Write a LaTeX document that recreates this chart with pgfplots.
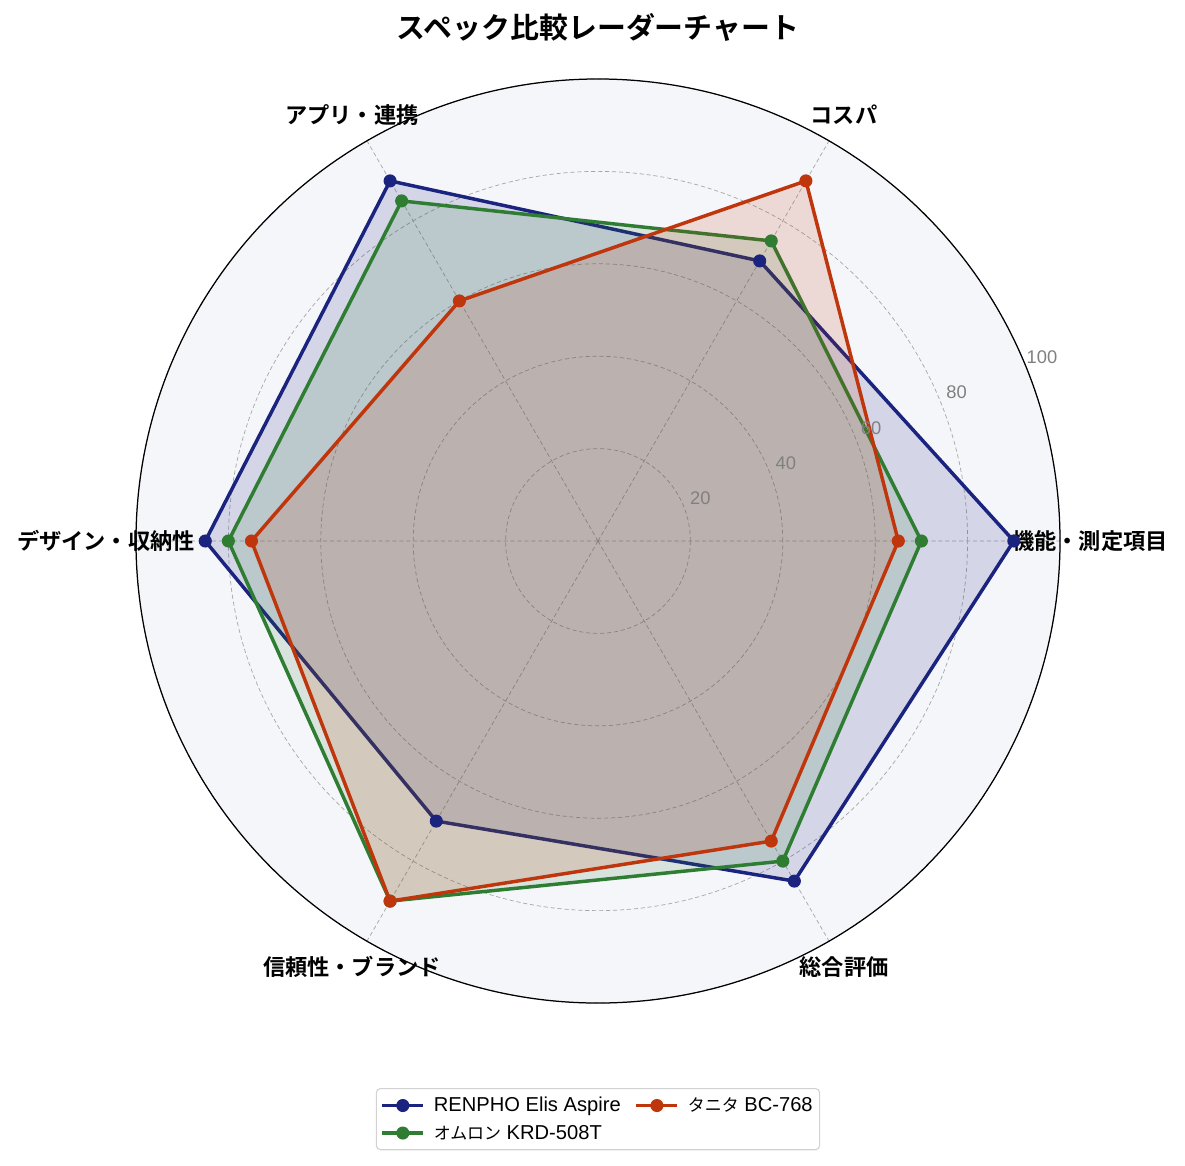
\documentclass[border=0pt]{standalone}
\usepackage{pgfplots}
\pgfplotsset{compat=1.18}
\usepgfplotslibrary{polar}
\usepackage{fontspec}
\setmainfont{Noto Sans CJK JP}[BoldFont={Noto Sans CJK JP Bold}]
\newfontfamily\latinfont{Liberation Sans}
\newfontfamily\jpfont{Noto Sans CJK JP}
\newcommand\jp[1]{{\jpfont\fontsize{12.2}{17}\selectfont #1}}
\definecolor{renpho}{HTML}{1A237E}
\definecolor{omron}{HTML}{2E7D32}
\definecolor{tanita}{HTML}{BF360C}
\definecolor{bgpanel}{HTML}{F5F6FA}
\definecolor{tickgray}{HTML}{808080}

\begin{document}
\begin{tikzpicture}
\begin{polaraxis}[
  scale only axis,
  width=665.3pt, height=665.3pt,
  ymin=0, ymax=100,
  xtick={0,60,...,300}, xticklabels={},
  ytick={20,40,60,80,100}, yticklabels={},
  major tick length=0pt,
  grid=major,
  grid style={densely dashed, gray!70, line width=0.5pt},
  axis line style={black, line width=0.9pt},
  y axis line style={draw=none},
  axis background/.style={fill=bgpanel},
  legend style={at={(0.5,-0.092)}, anchor=north,
    font=\latinfont\fontsize{14.5}{17}\selectfont,
    legend columns=2, draw=gray!35, line width=0.8pt, rounded corners=3pt,
    inner xsep=3pt, inner ysep=4.2pt, row sep=4pt,
    /tikz/every odd column/.append style={column sep=4.3pt},
    /tikz/every even column/.append style={column sep=8pt}},
  legend cell align=left,
  legend image code/.code={
    \draw[mark repeat=2, mark phase=2] plot coordinates {(0pt,0pt) (14.8pt,0pt) (29.6pt,0pt)};
  },
  clip=false,
]
\coordinate (c) at (axis cs:0,0);
% RENPHO Elis Aspire
\addplot[renpho, line width=2.5pt, fill=renpho, fill opacity=0.15,
  mark=*, mark size=4.2pt, mark options={fill opacity=1, line width=1pt}, forget plot]
  coordinates {(0,90) (60,70) (120,90) (180,85) (240,70) (300,85)} -- cycle;
% オムロン KRD-508T
\addplot[omron, line width=2.5pt, fill=omron, fill opacity=0.15,
  mark=*, mark size=4.2pt, mark options={fill opacity=1, line width=1pt}, forget plot]
  coordinates {(0,70) (60,75) (120,85) (180,80) (240,90) (300,80)} -- cycle;
% タニタ BC-768
\addplot[tanita, line width=2.5pt, fill=tanita, fill opacity=0.15,
  mark=*, mark size=4.2pt, mark options={fill opacity=1, line width=1pt}, forget plot]
  coordinates {(0,65) (60,90) (120,60) (180,75) (240,90) (300,75)} -- cycle;

\addlegendimage{renpho, line width=2.5pt, mark=*, mark size=4.2pt, mark options={line width=1pt}}
\addlegendentry{RENPHO Elis Aspire}
\addlegendimage{tanita, line width=2.5pt, mark=*, mark size=4.2pt, mark options={line width=1pt}}
\addlegendentry{\jp{タニタ} BC-768}
\addlegendimage{omron, line width=2.5pt, mark=*, mark size=4.2pt, mark options={line width=1pt}}
\addlegendentry{\jp{オムロン} KRD-508T}

% radial tick labels
\pgfplotsinvokeforeach{20,40,60,80,100}{
  \node[text=tickgray, font=\latinfont\fontsize{13.2}{15}\selectfont] at (axis cs:22.5,#1+4) {#1};
}
% category labels
\node[font=\fontsize{16}{19}\selectfont\bfseries] at (axis cs:0,106.5) {機能・測定項目};
\node[font=\fontsize{16}{19}\selectfont\bfseries] at (axis cs:60,106.5) {コスパ};
\node[font=\fontsize{16}{19}\selectfont\bfseries] at (axis cs:120,106.5) {アプリ・連携};
\node[font=\fontsize{16}{19}\selectfont\bfseries] at (axis cs:180,106.5) {デザイン・収納性};
\node[font=\fontsize{16}{19}\selectfont\bfseries] at (axis cs:240,106.5) {信頼性・ブランド};
\node[font=\fontsize{16}{19}\selectfont\bfseries] at (axis cs:300,106.5) {総合評価};
\end{polaraxis}
\node[font=\fontsize{20.8}{24}\selectfont\bfseries] at ([yshift=369.4pt]c) {スペック比較レーダーチャート};
\pgfresetboundingbox
\path[use as bounding box] ([shift={(-430.56pt,-449.28pt)}]c) rectangle ([shift={(422.64pt,389.52pt)}]c);
\end{tikzpicture}
\end{document}
